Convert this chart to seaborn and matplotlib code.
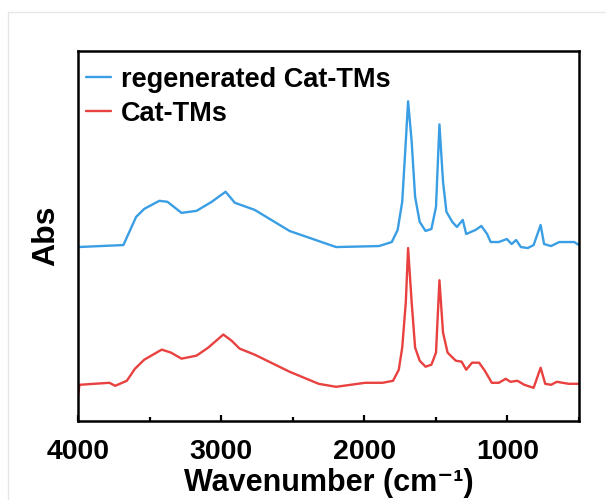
import matplotlib
matplotlib.use("Agg")
import matplotlib.pyplot as plt
import seaborn as sns
import pandas as pd
from matplotlib.patches import Rectangle

# Wavenumber (cm-1) and absorbance (arbitrary units)
wn_regen = [4000, 3683, 3594, 3537, 3432, 3375, 3277, 3172, 3066, 2969, 2904, 2766,
            2522, 2197, 1897, 1808, 1767, 1735, 1710, 1694, 1669, 1645, 1613, 1572,
            1531, 1499, 1475, 1450, 1426, 1385, 1353, 1312, 1288, 1223, 1182, 1142,
            1117, 1060, 1004, 971, 939, 906, 858, 817, 768, 744, 695, 638, 533, 500]
abs_regen = [1.73, 1.75, 2.03, 2.11, 2.19, 2.18, 2.07, 2.09, 2.18, 2.28, 2.17, 2.10,
             1.89, 1.73, 1.74, 1.78, 1.90, 2.18, 2.78, 3.18, 2.78, 2.23, 1.98, 1.89,
             1.91, 2.13, 2.95, 2.38, 2.08, 1.98, 1.93, 2.00, 1.86, 1.90, 1.94, 1.86,
             1.78, 1.78, 1.81, 1.76, 1.80, 1.73, 1.72, 1.75, 1.95, 1.76, 1.74, 1.78, 1.78, 1.75]

wn_cat = [4000, 3990, 3781, 3740, 3659, 3602, 3537, 3415, 3350, 3277, 3172, 3090, 2985,
          2928, 2871, 2766, 2522, 2319, 2197, 1994, 1872, 1799, 1759, 1735, 1710,
          1694, 1669, 1645, 1613, 1572, 1531, 1499, 1475, 1450, 1418, 1361, 1320,
          1288, 1247, 1198, 1158, 1109, 1060, 1012, 979, 930, 882, 817, 768, 736,
          695, 655, 573, 500]
abs_cat = [0.25, 0.36, 0.38, 0.35, 0.40, 0.52, 0.61, 0.71, 0.68, 0.62, 0.65, 0.73, 0.86,
           0.80, 0.72, 0.66, 0.49, 0.37, 0.34, 0.38, 0.38, 0.40, 0.51, 0.73, 1.18,
           1.72, 1.18, 0.73, 0.60, 0.54, 0.56, 0.68, 1.40, 0.88, 0.68, 0.60, 0.59,
           0.51, 0.58, 0.58, 0.50, 0.38, 0.38, 0.42, 0.39, 0.40, 0.36, 0.33, 0.53, 0.37,
           0.36, 0.39, 0.37, 0.37]

series_names = ["regenerated Cat-TMs", "Cat-TMs"]
colors = ["#3A9EE4", "#E8413F"]
x_ticks = [4000, 3000, 2000, 1000]
minor_ticks = [3500, 2500, 1500, 500]

df = pd.concat([
    pd.DataFrame({"wn": wn_regen, "abs": abs_regen, "sample": series_names[0]}),
    pd.DataFrame({"wn": wn_cat, "abs": abs_cat, "sample": series_names[1]}),
])

sns.set_theme(style="white")
plt.rcParams["font.family"] = ["Liberation Sans", "DejaVu Sans"]
plt.rcParams["font.weight"] = "bold"
plt.rcParams["text.color"] = "black"
plt.rcParams["axes.labelcolor"] = "black"
plt.rcParams["xtick.color"] = "black"

fig = plt.figure(figsize=(6.06, 5.00), dpi=100)
fig.patches.append(Rectangle((8 / 606, -0.1), 1.2, 1 - 12 / 500 + 0.1,
                             transform=fig.transFigure, fill=False,
                             edgecolor="#e6e6e6", linewidth=1))
ax = fig.add_axes([78 / 606, 79 / 500, 501 / 606, 370 / 500])

sns.lineplot(data=df, x="wn", y="abs", hue="sample", palette=colors,
             hue_order=series_names, sort=False, estimator=None,
             linewidth=1.7, ax=ax)

ax.set_xlim(4000, 500)
ax.set_ylim(0, 3.68)
ax.set_xticks(x_ticks)
ax.set_xticks(minor_ticks, minor=True)
ax.set_xticklabels([str(t) for t in x_ticks], fontsize=20.5, fontweight="bold")
ax.set_yticks([])
ax.tick_params(axis="x", which="major", direction="in", length=4, width=1.6,
               bottom=True, top=False, pad=13)
ax.tick_params(axis="x", which="minor", direction="in", length=3, width=1.6,
               bottom=True, top=False)
for s in ax.spines.values():
    s.set_linewidth(1.8)
    s.set_color("black")

ax.set_xlabel("Wavenumber (cm\u207b\u00b9)", fontsize=22, fontweight="bold", labelpad=2)
ax.set_ylabel("Abs", fontsize=23, fontweight="bold", labelpad=12)

leg = ax.legend(loc="upper left", bbox_to_anchor=(0.015, 0.958), frameon=False,
                fontsize=19.5, handlelength=0.95, handletextpad=0.35,
                borderaxespad=0.0, borderpad=0.0, labelspacing=0.3)
for t in leg.get_texts():
    t.set_fontweight("bold")

fig.savefig("out.png", dpi=100, facecolor="white")
